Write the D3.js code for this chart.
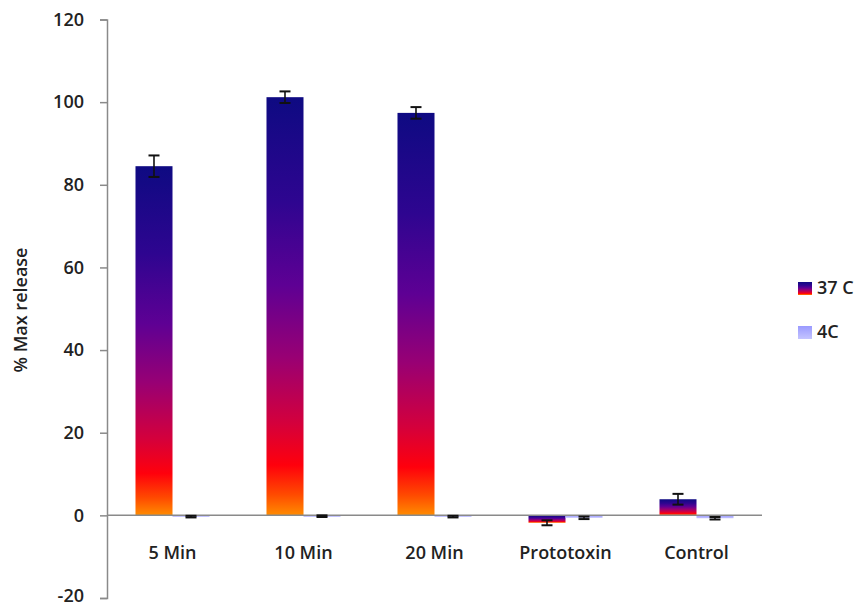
<!DOCTYPE html>
<html>
<head>
<meta charset="utf-8">
<script src="https://cdn.jsdelivr.net/npm/d3@7"></script>
<style>
  body { margin: 0; background: #fff; }
  text { font-family: "Open Sans", sans-serif; font-weight: 600; fill: #222; }
</style>
</head>
<body>
<div id="chart"></div>
<script>
// data
var categories = ["5 Min", "10 Min", "20 Min", "Prototoxin", "Control"];
var series = ["37 C", "4C"];
var warm = [84.5, 101.2, 97.4, -1.8, 3.9];
var warmErr = [2.6, 1.4, 1.4, 0.6, 1.3];
var cold = [-0.3, -0.2, -0.3, -0.6, -0.7];
var coldErr = [0.2, 0.2, 0.2, 0.3, 0.3];
var yTicks = [-20, 0, 20, 40, 60, 80, 100, 120];

var width = 857, height = 606;

var svg = d3.select("#chart")
  .append("svg")
    .attr("width", width)
    .attr("height", height);

// gradient for the 37 C bars
var defs = svg.append("defs");
var grad = defs.append("linearGradient")
    .attr("id", "warmGrad")
    .attr("x1", 0).attr("y1", 0).attr("x2", 0).attr("y2", 1);
[[0, "#0e0a82"], [0.25, "#2e0590"], [0.45, "#5e0094"], [0.62, "#980074"],
 [0.78, "#d4003c"], [0.88, "#ff000c"], [0.95, "#ff4a00"], [1, "#ff8c00"]]
  .forEach(function (s) {
    grad.append("stop").attr("offset", s[0]).attr("stop-color", s[1]);
  });
var grad2 = defs.append("linearGradient")
    .attr("id", "coldGrad")
    .attr("x1", 0).attr("y1", 0).attr("x2", 0).attr("y2", 1);
grad2.append("stop").attr("offset", 0).attr("stop-color", "#9a9aff");
grad2.append("stop").attr("offset", 1).attr("stop-color", "#c4c4ff");

var fills = { "37 C": "url(#warmGrad)", "4C": "url(#coldGrad)" };

var x0 = d3.scaleBand()
  .domain(categories)
  .range([107, 762])
  .paddingInner(0.435)
  .paddingOuter(0.2175);

var x1 = d3.scaleBand()
  .domain(series)
  .range([0, x0.bandwidth()]);

var y = d3.scaleLinear()
  .domain([-20, 120])
  .range([598, 19.5]);

// Y axis
var yAxis = svg.append("g")
  .attr("transform", "translate(107,0)")
  .call(d3.axisLeft(y).tickValues(yTicks).tickSize(7).tickPadding(16)
    .tickFormat(function (d) { return String(d); }));
yAxis.select(".domain").attr("stroke", "#8a8a8a").attr("stroke-width", 1.5);
yAxis.selectAll(".tick line").attr("stroke", "#8a8a8a").attr("stroke-width", 1.5);
yAxis.selectAll(".tick text")
  .style("font-size", "18px")
  .style("font-family", "'Open Sans', sans-serif")
  .style("font-weight", 600)
  .attr("fill", "#222")
  .attr("dy", function (d) { return d === -20 ? "0.22em" : "0.32em"; });

var rows = categories.map(function (c, i) {
  return [
    { cat: c, s: "37 C", v: warm[i], e: warmErr[i] },
    { cat: c, s: "4C", v: cold[i], e: coldErr[i] }
  ];
});
var flat = [].concat.apply([], rows);

// bars
svg.append("g")
  .selectAll("rect")
  .data(flat)
  .enter()
  .append("rect")
    .attr("x", function (d) { return x0(d.cat) + x1(d.s); })
    .attr("y", function (d) { return y(Math.max(0, d.v)); })
    .attr("width", x1.bandwidth())
    .attr("height", function (d) { return Math.max(1.5, Math.abs(y(d.v) - y(0))); })
    .attr("fill", function (d) { return fills[d.s]; });

// zero line
svg.append("line")
  .attr("x1", 107).attr("x2", x0.range()[1])
  .attr("y1", y(0)).attr("y2", y(0))
  .attr("stroke", "#8a8a8a")
  .attr("stroke-width", 1.5);

// error bars
var eb = svg.append("g").attr("stroke", "#111").attr("stroke-width", 1.6);
flat.forEach(function (d) {
  var cx = x0(d.cat) + x1(d.s) + x1.bandwidth() / 2;
  eb.append("line")
    .attr("x1", cx).attr("x2", cx)
    .attr("y1", y(d.v + d.e)).attr("y2", y(d.v - d.e));
  [d.v + d.e, d.v - d.e].forEach(function (t) {
    eb.append("line")
      .attr("x1", cx - 5.5).attr("x2", cx + 5.5)
      .attr("y1", y(t)).attr("y2", y(t))
      .attr("stroke-width", 2);
  });
});

// category labels
svg.append("g")
  .selectAll("text")
  .data(categories)
  .enter()
  .append("text")
    .attr("x", function (d) { return x0(d) + x0.bandwidth() / 2; })
    .attr("y", 559)
    .attr("text-anchor", "middle")
    .style("font-size", "18px")
    .text(function (d) { return d; });

// Y axis label
svg.append("text")
  .attr("transform", "translate(27,310) rotate(-90)")
  .attr("text-anchor", "middle")
  .style("font-size", "18px")
  .text("% Max release");

// legend
var legend = svg.append("g");
series.forEach(function (s, i) {
  var ly = 282 + i * 44;
  legend.append("rect")
    .attr("x", 798).attr("y", ly)
    .attr("width", 14).attr("height", 13)
    .attr("fill", fills[s]);
  legend.append("text")
    .attr("x", 817).attr("y", ly + 12)
    .style("font-size", "18px")
    .text(s);
});
</script>
</body>
</html>
